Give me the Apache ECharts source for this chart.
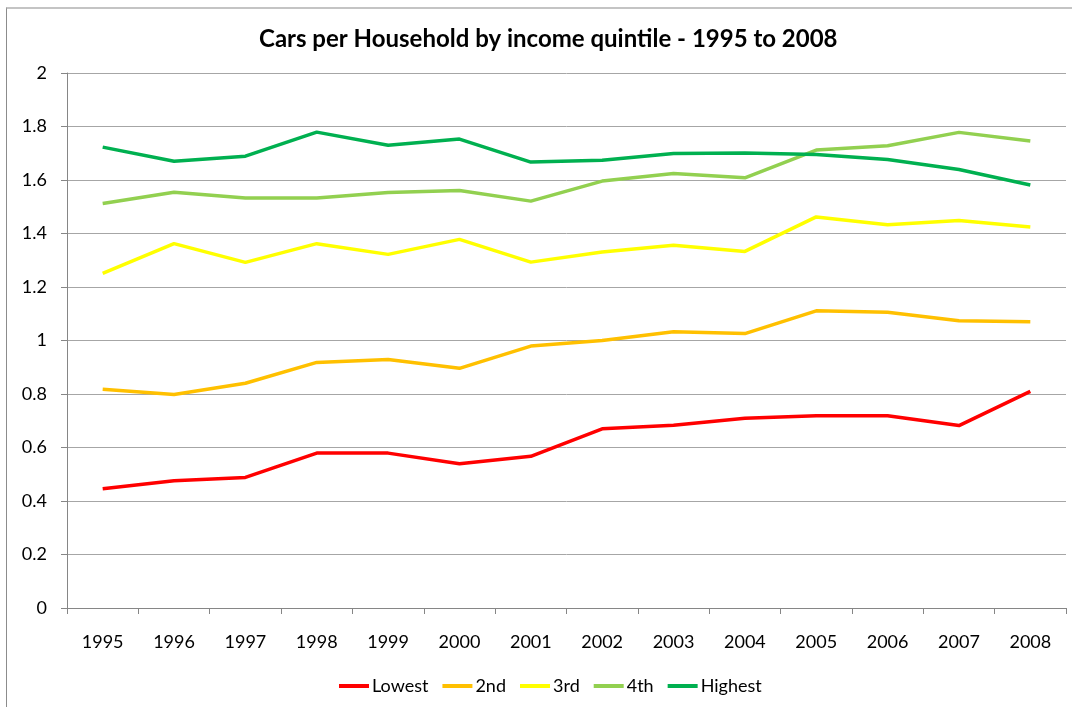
<!DOCTYPE html>
<html>
<head>
<meta charset="utf-8">
<script src="https://cdn.jsdelivr.net/npm/echarts@6/dist/echarts.min.js"></script>
<style>
  html, body { margin: 0; padding: 0; background: #fff; }
  #frame {
    position: absolute; left: 6px; top: 7px; width: 1100px; height: 740px;
    border-top: 2px solid #c4c4c4; border-left: 1px solid #8c8c8c;
  }
  #chart { position: absolute; left: 0; top: 0; width: 1072px; height: 707px; }
</style>
</head>
<body>
<div id="frame"></div>
<div id="chart"></div>
<script>
  // years on the category axis
  const years = ["1995", "1996", "1997", "1998", "1999", "2000", "2001",
    "2002", "2003", "2004", "2005", "2006", "2007", "2008"];

  // cars per household
  const lowest = [0.446, 0.476, 0.488, 0.579, 0.579, 0.539, 0.567,
    0.670, 0.683, 0.709, 0.719, 0.719, 0.682, 0.810];
  const second = [0.818, 0.798, 0.840, 0.918, 0.929, 0.896, 0.979,
    1.000, 1.033, 1.026, 1.111, 1.106, 1.074, 1.070];
  const third = [1.251, 1.362, 1.292, 1.362, 1.322, 1.378, 1.293,
    1.331, 1.356, 1.333, 1.462, 1.433, 1.449, 1.424];
  const fourth = [1.512, 1.554, 1.533, 1.533, 1.553, 1.561, 1.521,
    1.596, 1.624, 1.608, 1.712, 1.728, 1.778, 1.746];
  const highest = [1.723, 1.670, 1.689, 1.779, 1.730, 1.753, 1.667,
    1.674, 1.699, 1.701, 1.695, 1.677, 1.639, 1.581];

  const seriesNames = ["Lowest", "2nd", "3rd", "4th", "Highest"];
  const seriesColors = ["#ff0000", "#ffc000", "#ffff00", "#92d050", "#00b050"];
  const seriesData = [lowest, second, third, fourth, highest];

  const font = "Lato, 'Open Sans', sans-serif";

  const chart = echarts.init(document.getElementById("chart"), null, { renderer: "canvas" });

  const option = {
    animation: false,
    title: {
      text: "Cars per Household by income quintile - 1995 to 2008",
      left: 254,
      top: 22,
      textStyle: { fontFamily: font, fontSize: 24, fontWeight: "bold", color: "#000" },
    },
    legend: {
      data: seriesNames,
      bottom: 7,
      left: 334,
      icon: "rect",
      itemWidth: 30,
      itemHeight: 4,
      itemGap: 14,
      textStyle: { fontFamily: font, fontSize: 18, color: "#000", padding: [0, 0, 0, -2] },
    },
    grid: { left: 67, right: 6, top: 73, bottom: 99, containLabel: false },
    xAxis: {
      type: "category",
      data: years,
      boundaryGap: true,
      axisLine: { lineStyle: { color: "#868686", width: 1 } },
      axisTick: { show: true, length: 6, lineStyle: { color: "#868686" } },
      axisLabel: { fontFamily: font, fontSize: 18, color: "#000", margin: 25 },
    },
    yAxis: {
      type: "value",
      min: 0,
      max: 2,
      interval: 0.2,
      axisLine: { show: true, lineStyle: { color: "#868686", width: 1 } },
      axisTick: { show: true, length: 6, lineStyle: { color: "#868686" } },
      axisLabel: {
        fontFamily: font, fontSize: 18, color: "#000", margin: 20,
        formatter: (v) => String(Math.round(v * 10) / 10),
      },
      splitLine: { lineStyle: { color: "#a6a6a6", width: 1 } },
    },
    series: seriesNames.map((name, i) => ({
      name,
      type: "line",
      data: seriesData[i],
      symbol: "none",
      color: seriesColors[i],
      lineStyle: { width: 3.5, color: seriesColors[i] },
    })),
  };

  chart.setOption(option);
</script>
</body>
</html>
